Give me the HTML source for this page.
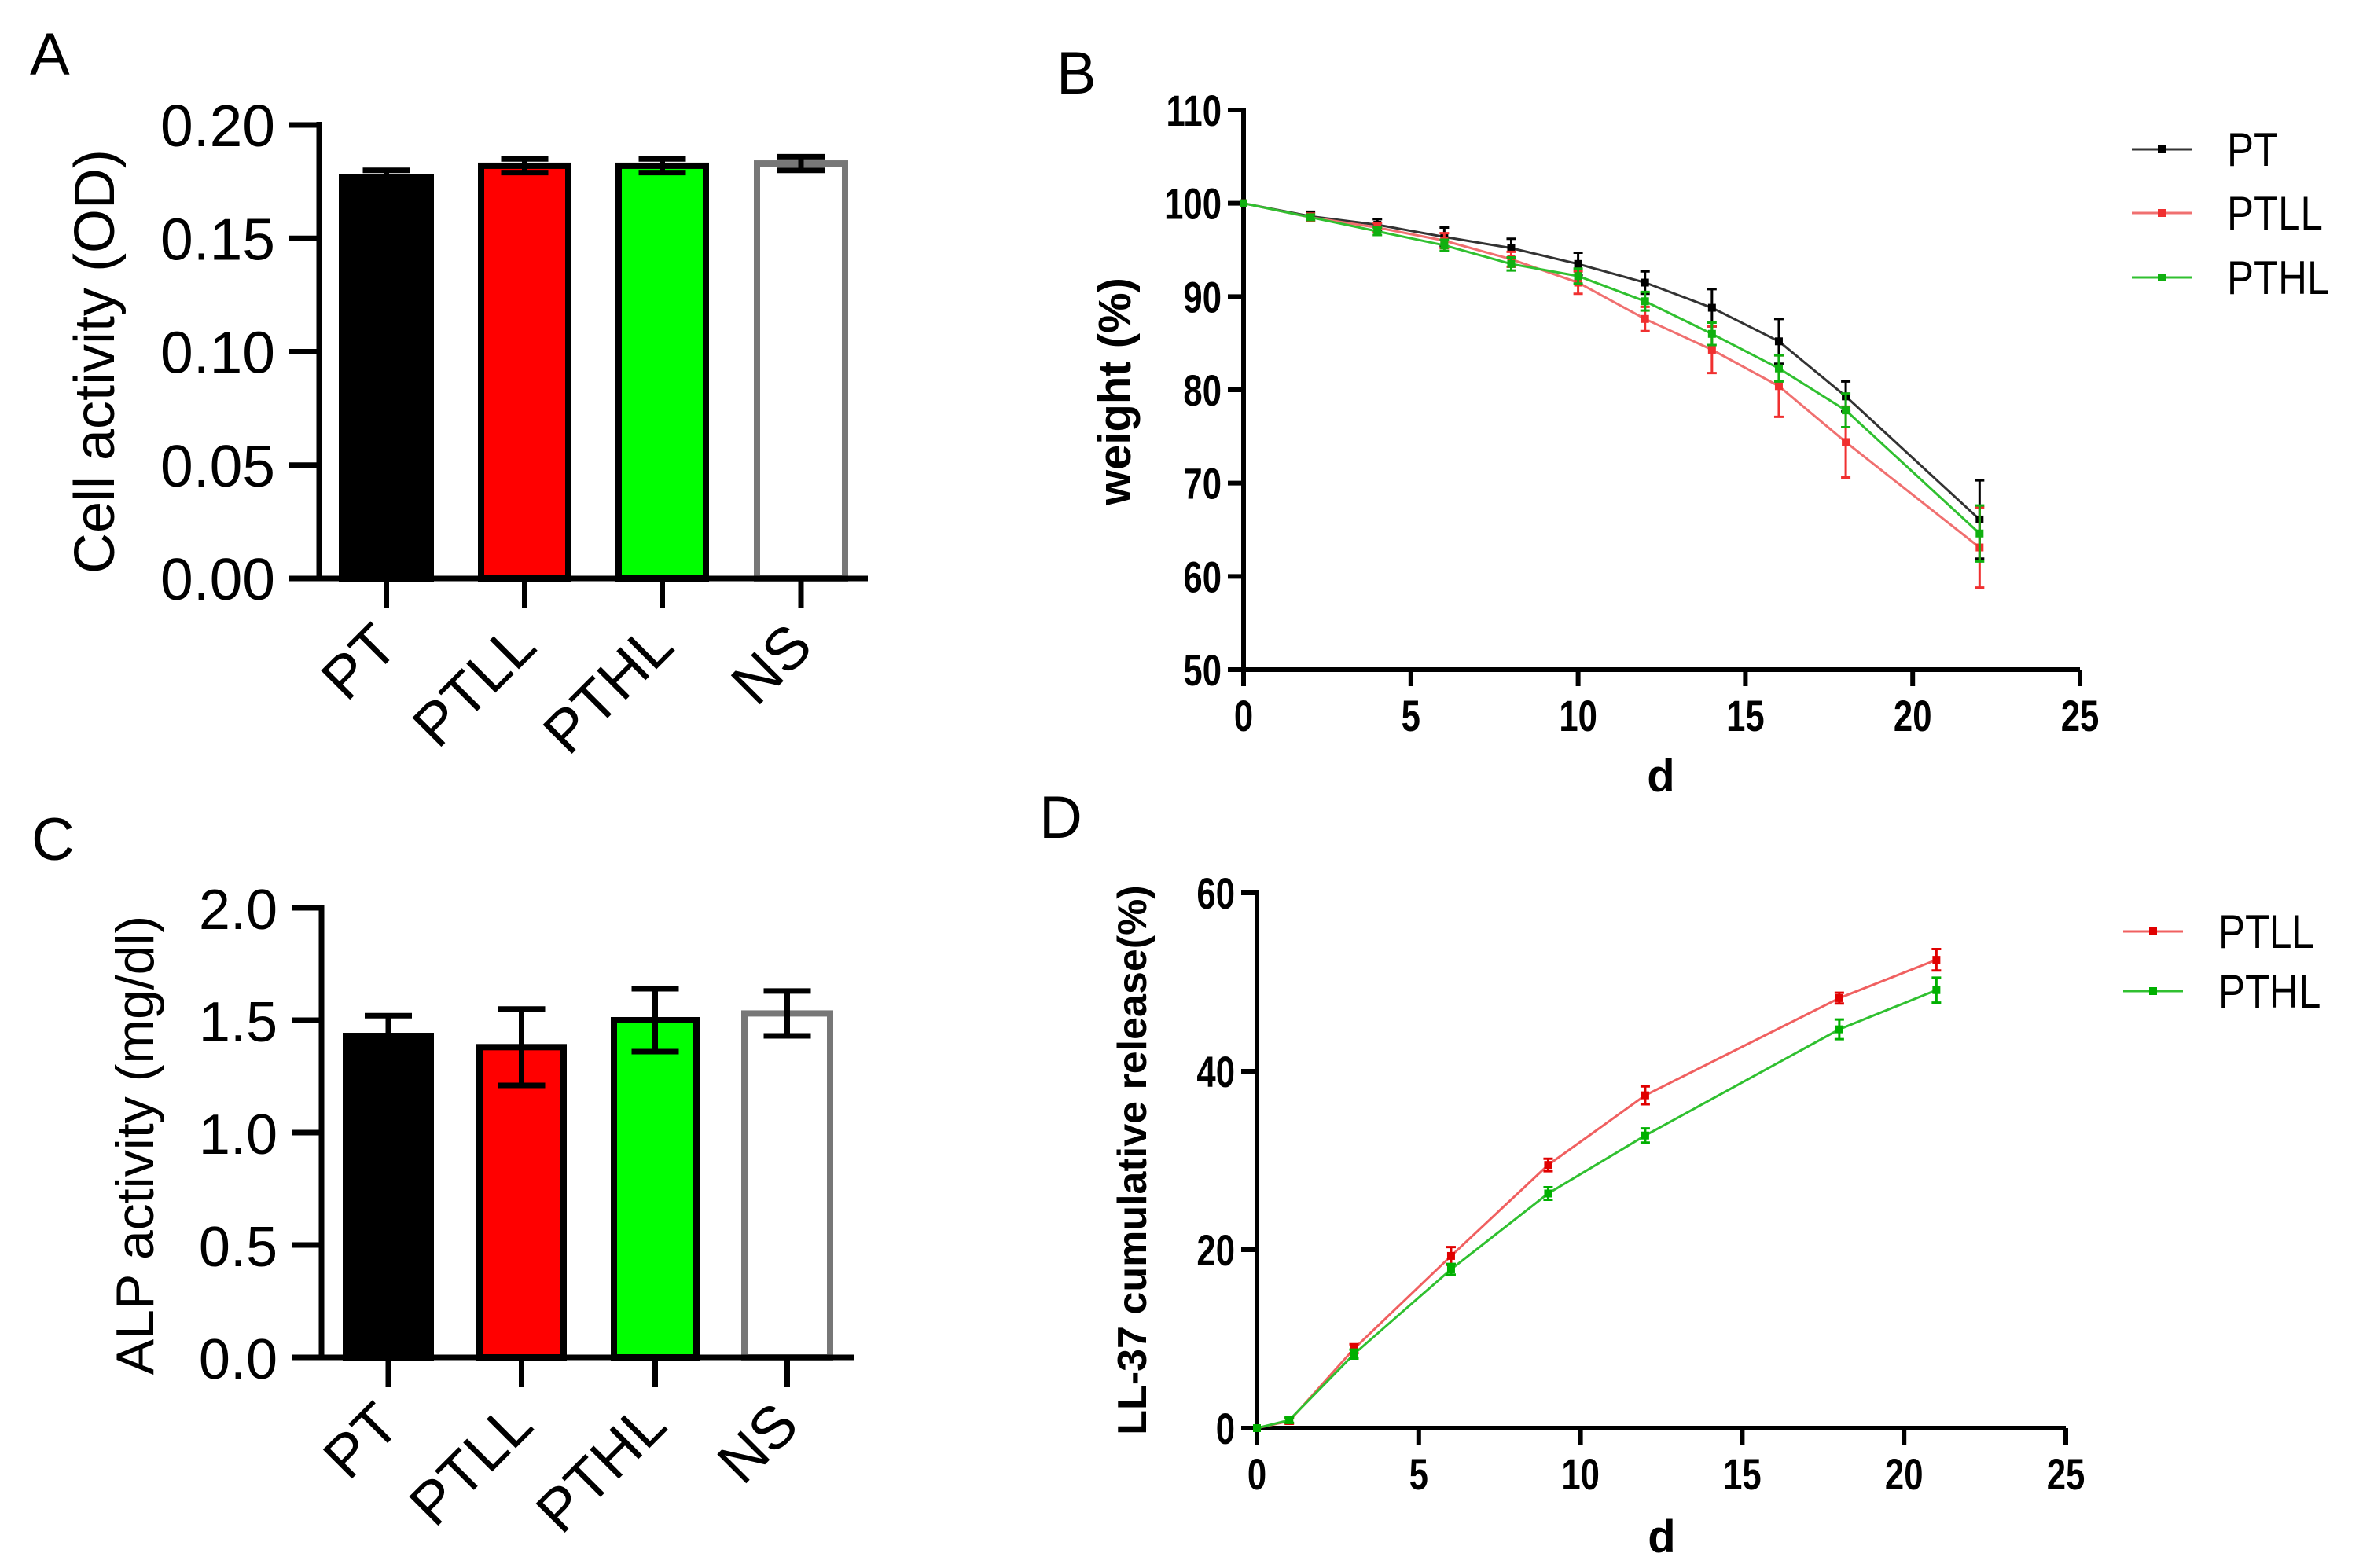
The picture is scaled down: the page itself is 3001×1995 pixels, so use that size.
<!DOCTYPE html>
<html><head><meta charset="utf-8"><style>
html,body{margin:0;padding:0;background:#fff;}
svg{display:block;}
text{font-family:"Liberation Sans",Arial,sans-serif;}
</style></head><body>
<svg id="fig" xmlns="http://www.w3.org/2000/svg" width="3001" height="1995" viewBox="0 0 3001 1995">
<rect width="3001" height="1995" fill="#fff"/>
<text x="38" y="95" font-size="76">A</text>
<text x="1344" y="119" font-size="76">B</text>
<text x="40" y="1094" font-size="76">C</text>
<text x="1322" y="1066" font-size="76">D</text>
<g id="pA"></g>
<g id="pC"></g>
<g id="pB"></g>
<g id="pD"></g>
</svg>
<script>
// Panel A data
const catsA = ["PT","PTLL","PTHL","NS"];
const valsA = [0.177,0.182,0.182,0.183];
const errsA = [0.003,0.003,0.003,0.003];
const ticksA = ["0.00","0.05","0.10","0.15","0.20"];
// Panel C data
const catsC = ["PT","PTLL","PTHL","NS"];
const valsC = [1.43,1.38,1.50,1.53];
const errsC = [0.09,0.17,0.14,0.10];
const ticksC = ["0.0","0.5","1.0","1.5","2.0"];
// Panel B data
const daysB = [0,2,4,6,8,10,12,14,16,18,22];
const ptB   = [100,98.6,97.7,96.4,95.2,93.5,91.5,88.8,85.2,79.3,66.1];
const ptErrB= [0,0.5,0.6,1.0,1.0,1.2,1.2,2.0,2.4,1.6,4.2];
const ptllB = [100,98.5,97.4,96.0,94.0,91.5,87.6,84.3,80.4,74.4,63.1];
const ptllErrB=[0,0.4,0.5,0.8,0.8,1.2,1.3,2.5,3.3,3.8,4.3];
const pthlB = [100,98.5,97.0,95.5,93.5,92.2,89.5,86.0,82.3,77.8,64.6];
const pthlErrB=[0,0.3,0.4,0.6,0.7,0.8,1.0,1.2,1.4,1.8,3.0];
const yTicksB = [50,60,70,80,90,100,110];
const xTicksB = [0,5,10,15,20,25];
// Panel D data
const daysD = [0,1,3,6,9,12,18,21];
const ptllD = [0,0.8,8.9,19.3,29.5,37.3,48.2,52.5];
const ptllErrD=[0,0.3,0.5,1.0,0.7,1.0,0.6,1.2];
const pthlD = [0,0.9,8.3,17.8,26.3,32.8,44.7,49.1];
const pthlErrD=[0,0.3,0.5,0.6,0.7,0.8,1.1,1.4];
const yTicksD = [0,20,40,60];
const xTicksD = [0,5,10,15,20,25];

const NS="http://www.w3.org/2000/svg";
function mk(parent,tag,attrs){const e=document.createElementNS(NS,tag);for(const k in attrs)e.setAttribute(k,attrs[k]);parent.appendChild(e);return e;}

function barPanel(g,cats,vals,errs,ticks,cfg){
  const y=v=>cfg.y0+(v-cfg.vmin)/(cfg.vmax-cfg.vmin)*(cfg.y1-cfg.y0);
  const fills=["#000","#ff0000","#00ff00","#fff"];
  const strokes=["#000","#000","#000","#777"];
  cats.forEach((c,i)=>{
    const x0=cfg.bars[i][0],x1=cfg.bars[i][1],cx=(x0+x1)/2;
    const r=mk(g,'rect',{x:x0+4,y:y(vals[i]),width:x1-x0-8,height:cfg.y0-y(vals[i]),fill:fills[i],stroke:strokes[i],'stroke-width':8});
    
    
    const hi=y(vals[i]+errs[i]),lo=y(vals[i]-errs[i]);
    const eb=mk(g,'path',{d:`M${cx},${hi}V${lo}M${cx-30},${hi}H${cx+30}M${cx-30},${lo}H${cx+30}`,stroke:'#000','stroke-width':7,fill:'none'});
    
    
    const t=mk(g,'line',{x1:cx,y1:cfg.y0,x2:cx,y2:cfg.y0+38,stroke:'#000','stroke-width':7});
    
    
    const px=cx+18,py=cfg.y0+90;
    const lb=mk(g,'text',{x:px,y:py,'font-size':76,'text-anchor':'end',transform:`rotate(-45 ${px} ${py})`});
    lb.textContent=c;
    
    
  });
  const ax=mk(g,'path',{d:`M${cfg.ax},${cfg.y1-4}V${cfg.y0}M${cfg.ax-38},${cfg.y0}H${cfg.xr}`,stroke:'#000','stroke-width':7,fill:'none'});
  
  
  ticks.forEach(tl=>{
    const v=parseFloat(tl),yy=y(v);
    const tk=mk(g,'line',{x1:cfg.ax-38,y1:yy,x2:cfg.ax,y2:yy,stroke:'#000','stroke-width':7});
    
    
    const tt=mk(g,'text',{x:cfg.ax-56,y:yy+27,'font-size':cfg.tfs,'text-anchor':'end'});
    tt.textContent=tl;
    
    
  });
  const yt=mk(g,'text',{x:cfg.tx,y:cfg.ty,'font-size':cfg.titfs,'text-anchor':'middle',transform:`rotate(-90 ${cfg.tx} ${cfg.ty})`});
  yt.textContent=cfg.title;
  
  
}

barPanel(document.getElementById('pA'),catsA,valsA,errsA,ticksA,
 {y0:736,y1:159,vmin:0,vmax:0.2,ax:406,xr:1104,bars:[[431,552],[608,727],[783,902],[959,1079]],tfs:75,tx:145,ty:460,titfs:72,title:"Cell activity (OD)"});
barPanel(document.getElementById('pC'),catsC,valsC,errsC,ticksC,
 {y0:1727,y1:1155,vmin:0,vmax:2,ax:409,xr:1086,bars:[[436,552],[606,721],[777,890],[943,1060]],tfs:72,tx:195,ty:1457,titfs:68,title:"ALP activity (mg/dl)"});

function narrowText(g,x,y,str,fs,anchor,sx,bold,name){
  const t=mk(g,'text',{x:0,y:0,'font-size':fs,'text-anchor':anchor,transform:`translate(${x} ${y}) scale(${sx} 1)`});
  if(bold)t.setAttribute('font-weight','bold');
  t.textContent=str;
  
  
  return t;
}

function linePanel(g,cfg){
  const X=v=>cfg.x0+(v-cfg.xmin)/(cfg.xmax-cfg.xmin)*(cfg.x1-cfg.x0);
  const Y=v=>cfg.y0+(v-cfg.ymin)/(cfg.ymax-cfg.ymin)*(cfg.y1-cfg.y0);
  const ax=mk(g,'path',{d:`M${cfg.x0},${cfg.y1-3}V${cfg.y0}H${cfg.x1}`,stroke:'#000','stroke-width':6,fill:'none'});
  
  
  cfg.yt.forEach(v=>{
    const tk=mk(g,'line',{x1:cfg.x0-20,y1:Y(v),x2:cfg.x0,y2:Y(v),stroke:'#000','stroke-width':6});
    
    
    narrowText(g,cfg.x0-28,Y(v)+20,String(v),56,'end',0.78,true,'y-tick-label');
  });
  cfg.xt.forEach(v=>{
    const tk=mk(g,'line',{x1:X(v),y1:cfg.y0,x2:X(v),y2:cfg.y0+21,stroke:'#000','stroke-width':6});
    
    
    narrowText(g,X(v),cfg.y0+78,String(v),56,'middle',0.78,true,'x-tick-label');
  });
  const xt=mk(g,'text',{x:cfg.dx,y:cfg.dy,'font-size':58,'font-weight':'bold','text-anchor':'middle'});
  xt.textContent='d';
  
  
  const yt=mk(g,'text',{x:cfg.tx,y:cfg.ty,'font-size':cfg.titfs,'font-weight':'bold','text-anchor':'middle',transform:`rotate(-90 ${cfg.tx} ${cfg.ty})`});
  yt.textContent=cfg.title;
  
  
  cfg.series.forEach((s,si)=>{
    const sg=mk(g,'g',{});
    
    
    const pts=s.xs.map((d,i)=>X(d)+','+Y(s.ys[i])).join(' ');
    const pl=mk(sg,'polyline',{points:pts,fill:'none',stroke:s.line,'stroke-width':3});
    
    
    s.xs.forEach((d,i)=>{
      const cx=X(d),hi=Y(s.ys[i]+s.es[i]),lo=Y(s.ys[i]-s.es[i]);
      if(s.es[i]>0){
        const eb=mk(sg,'path',{d:`M${cx},${hi}V${lo}M${cx-6},${hi}H${cx+6}M${cx-6},${lo}H${cx+6}`,stroke:s.mark,'stroke-width':3,fill:'none'});
        
        
      }
      const m=mk(sg,'rect',{x:cx-5,y:Y(s.ys[i])-5,width:10,height:10,fill:s.mark});
      
      
    });
    const ly=cfg.legY[si];
    const lg=mk(g,'g',{});
    
    
    mk(lg,'line',{x1:cfg.legX,y1:ly,x2:cfg.legX+76,y2:ly,stroke:s.line,'stroke-width':3});
    mk(lg,'rect',{x:cfg.legX+33,y:ly-5,width:10,height:10,fill:s.mark});
    narrowText(lg,cfg.legX+121,ly+21,s.name,60,'start',0.85,false,'legend-label');
  });
}

linePanel(document.getElementById('pB'),{x0:1582,x1:2646,xmin:0,xmax:25,y0:852,y1:140,ymin:50,ymax:110,
  yt:yTicksB,xt:xTicksB,dx:2113,dy:1007,tx:1438,ty:498,titfs:58,title:"weight (%)",
  legX:2712,legY:[190,271,353],
  series:[{name:"PT",xs:daysB,ys:ptB,es:ptErrB,line:"#333",mark:"#000"},
          {name:"PTLL",xs:daysB,ys:ptllB,es:ptllErrB,line:"#f07070",mark:"#f03030"},
          {name:"PTHL",xs:daysB,ys:pthlB,es:pthlErrB,line:"#30c030",mark:"#10b010"}]});

linePanel(document.getElementById('pD'),{x0:1599,x1:2628,xmin:0,xmax:25,y0:1817,y1:1136,ymin:0,ymax:60,
  yt:yTicksD,xt:xTicksD,dx:2114,dy:1975,tx:1458,ty:1476,titfs:52,title:"LL-37 cumulative release(%)",
  legX:2701,legY:[1185,1261],
  series:[{name:"PTLL",xs:daysD,ys:ptllD,es:ptllErrD,line:"#f06060",mark:"#e00000"},
          {name:"PTHL",xs:daysD,ys:pthlD,es:pthlErrD,line:"#30c030",mark:"#00b000"}]});
</script>
</body></html>
